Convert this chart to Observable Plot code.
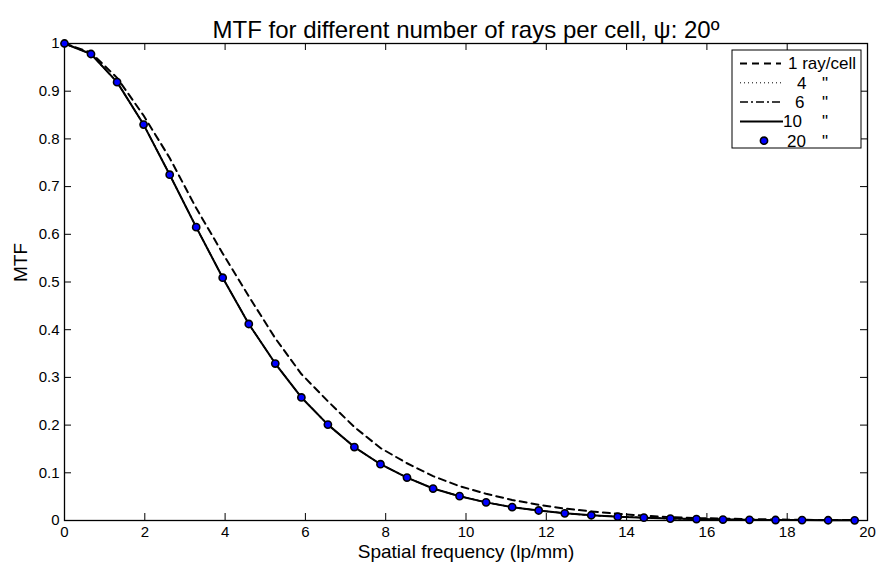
<!DOCTYPE html>
<html>
<head>
<meta charset="utf-8">
<script src="https://cdn.jsdelivr.net/npm/d3@7"></script>
<script src="https://cdn.jsdelivr.net/npm/@observablehq/plot@0.6"></script>
<style>
  html, body { margin: 0; padding: 0; background: #fff; }
  #chart { position: relative; width: 879px; height: 568px; }
</style>
</head>
<body>
<div id="chart"></div>
<script>
// ---- data ----
const titleText = "MTF for different number of rays per cell, \u03C8: 20\u00BA";
const xLabel = "Spatial frequency (lp/mm)";
const yLabel = "MTF";
const xTicks = [0, 2, 4, 6, 8, 10, 12, 14, 16, 18, 20];
const yTicks = [0, 0.1, 0.2, 0.3, 0.4, 0.5, 0.6, 0.7, 0.8, 0.9, 1];

const freq = [0, 0.66, 1.31, 1.97, 2.62, 3.28, 3.94, 4.59, 5.25, 5.90, 6.56, 7.22, 7.87, 8.53, 9.18, 9.84,
              10.50, 11.15, 11.81, 12.46, 13.12, 13.78, 14.43, 15.09, 15.74, 16.40, 17.06, 17.71, 18.37, 19.02, 19.68];

const mtf1 = [1.0, 0.981, 0.928, 0.849, 0.760, 0.655, 0.560, 0.470, 0.382, 0.307, 0.250, 0.196, 0.152, 0.120, 0.093, 0.072,
              0.056, 0.043, 0.033, 0.025, 0.019, 0.014, 0.010, 0.007, 0.005, 0.004, 0.003, 0.002, 0.0015, 0.001, 0.0008];
const mtf4 = [1.0, 0.978, 0.920, 0.831, 0.726, 0.616, 0.510, 0.413, 0.329, 0.258, 0.201, 0.154, 0.118, 0.090, 0.067, 0.051,
              0.038, 0.028, 0.021, 0.015, 0.011, 0.008, 0.006, 0.004, 0.003, 0.002, 0.0015, 0.001, 0.0008, 0.0005, 0.0003];
const mtf6 = [1.0, 0.978, 0.919, 0.830, 0.725, 0.615, 0.509, 0.412, 0.329, 0.258, 0.201, 0.154, 0.118, 0.090, 0.067, 0.051,
              0.038, 0.028, 0.021, 0.015, 0.011, 0.008, 0.006, 0.004, 0.003, 0.002, 0.0015, 0.001, 0.0008, 0.0005, 0.0003];
const mtf10 = [1.0, 0.978, 0.919, 0.830, 0.725, 0.615, 0.509, 0.412, 0.329, 0.258, 0.201, 0.154, 0.118, 0.090, 0.067, 0.051,
               0.038, 0.028, 0.021, 0.015, 0.011, 0.008, 0.006, 0.004, 0.003, 0.002, 0.0015, 0.001, 0.0008, 0.0005, 0.0003];
const mtf20 = [1.0, 0.978, 0.919, 0.830, 0.725, 0.615, 0.509, 0.412, 0.329, 0.258, 0.201, 0.154, 0.118, 0.090, 0.067, 0.051,
               0.038, 0.028, 0.021, 0.015, 0.011, 0.008, 0.006, 0.004, 0.003, 0.002, 0.0015, 0.001, 0.0008, 0.0005, 0.0003];

const legendNums = ["1 ray/cell", "4", "6", "10", "20"];

// ---- build ----
const rows = (ys) => freq.map((f, i) => ({x: f, y: ys[i]}));
const FONT = "'Liberation Sans', Arial, Helvetica, sans-serif";
const W = 879, H = 568, mL = 64, mR = 12, mT = 43, mB = 48;
const plotW = W - mL - mR, plotH = H - mT - mB;
const TK = 7;

const chart = Plot.plot({
  width: W, height: H,
  marginLeft: mL, marginRight: mR, marginTop: mT, marginBottom: mB,
  style: {fontFamily: FONT, background: "white", color: "black", overflow: "visible"},
  x: {domain: [0, 20]},
  y: {domain: [0, 1]},
  marks: [
    // ticks inside on all four sides
    Plot.tickX(xTicks, {x: d => d, insetTop: plotH - TK, stroke: "black", strokeWidth: 1}),
    Plot.tickX(xTicks, {x: d => d, insetBottom: plotH - TK, stroke: "black", strokeWidth: 1}),
    Plot.tickY(yTicks, {y: d => d, insetRight: plotW - TK, stroke: "black", strokeWidth: 1}),
    Plot.tickY(yTicks, {y: d => d, insetLeft: plotW - TK, stroke: "black", strokeWidth: 1}),
    Plot.axisX(xTicks, {tickSize: 0, tickPadding: 6, fontSize: 15, label: null, fill: "black", tickFormat: d => String(d)}),
    Plot.axisY(yTicks, {tickSize: 0, tickPadding: 5, fontSize: 15, label: null, fill: "black", tickFormat: d => String(+d.toFixed(1))}),
    Plot.frame({stroke: "black", strokeWidth: 1.3}),
    // series
    Plot.line(rows(mtf4), {x: "x", y: "y", stroke: "black", strokeWidth: 1, strokeDasharray: "1,3"}),
    Plot.line(rows(mtf6), {x: "x", y: "y", stroke: "black", strokeWidth: 1.5, strokeDasharray: "8,3,2,3"}),
    Plot.line(rows(mtf1), {x: "x", y: "y", stroke: "black", strokeWidth: 2, strokeDasharray: "7,5"}),
    Plot.line(rows(mtf10), {x: "x", y: "y", stroke: "black", strokeWidth: 2}),
    Plot.dot(rows(mtf20), {x: "x", y: "y", r: 3.6, fill: "#0000ff", stroke: "black", strokeWidth: 1.6}),
    // texts
    Plot.text([titleText], {text: d => d, frameAnchor: "top", dy: -23, fontSize: 24, fill: "black"}),
    Plot.text([xLabel], {text: d => d, frameAnchor: "bottom", dy: 37.5, fontSize: 19, fill: "black"}),
    Plot.text([yLabel], {text: d => d, frameAnchor: "left", dx: -44, rotate: -90, fontSize: 19, fill: "black"})
  ]
});
document.getElementById("chart").appendChild(chart);

// ---- legend (drawn inside the plot's SVG) ----
const svg = d3.select(chart);
const lg = svg.append("g").attr("font-family", FONT).attr("font-size", 17).attr("text-anchor", "start");
const bx = 732, by = 50, bw = 129, bh = 98, rowH = 19.3;
lg.append("rect").attr("x", bx).attr("y", by).attr("width", bw).attr("height", bh)
  .attr("fill", "white").attr("stroke", "black").attr("stroke-width", 1);
const styles = [
  {type: "line", dash: "7,5", w: 2},
  {type: "line", dash: "1,3", w: 1},
  {type: "line", dash: "8,3,2,3", w: 1.5},
  {type: "line", dash: null, w: 2},
  {type: "dot"}
];
const numX = [788, 797, 795, 783, 787];
legendNums.forEach((lab, i) => {
  const cy = by + 13.5 + i * rowH;
  const s = styles[i];
  if (s.type === "line") {
    const l = lg.append("line").attr("x1", 740).attr("x2", i === 3 ? 783 : 781)
      .attr("y1", cy).attr("y2", cy).attr("stroke", "black").attr("stroke-width", s.w);
    if (s.dash) l.attr("stroke-dasharray", s.dash);
  } else {
    lg.append("circle").attr("cx", 764).attr("cy", cy).attr("r", 3.6)
      .attr("fill", "#0000ff").attr("stroke", "black").attr("stroke-width", 1.6);
  }
  lg.append("text").attr("x", numX[i]).attr("y", cy).attr("dy", "0.35em").attr("fill", "black").text(lab);
  if (i > 0) lg.append("text").attr("x", 822).attr("y", cy).attr("dy", "0.35em").attr("fill", "black").text("\"");
});
</script>
</body>
</html>
